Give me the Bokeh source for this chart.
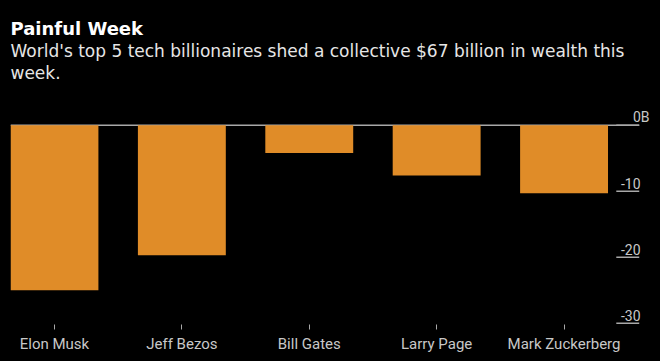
from bokeh.plotting import figure
from bokeh.models import Range1d, FixedTicker, Title
from bokeh.embed import file_html
from bokeh.resources import INLINE
from bokeh.core.properties import value

# ---- data ----
names = ["Elon Musk", "Jeff Bezos", "Bill Gates", "Larry Page", "Mark Zuckerberg"]
change = [-25.0, -19.7, -4.2, -7.6, -10.3]   # weekly wealth change, $B
y_ticks = [0, -10, -20, -30]
y_tick_labels = ["0B", "-10", "-20", "-30"]

title_text = "Painful Week"
subtitle_lines = [
    "World's top 5 tech billionaires shed a collective $67 billion in wealth this",
    "week.",
]

# ---- styling ----
FONT = "Roboto"
TFONT = "DejaVu Sans"
BAR = "#e08c28"
GRID = "#a8a8a8"
LABEL = "#c8c8c8"

n = len(names)
xs = list(range(n))
bar_w = 0.69
x_start = -bar_w / 2
x_end = n - 1 + 0.757
lab_x = n - 1 + 0.60
ul0 = n - 1 + 0.41
ul1 = n - 1 + 0.59

p = figure(width=660, height=361,
           x_range=Range1d(x_start, x_end), y_range=Range1d(-30.2, 6.5),
           output_backend="svg", toolbar_location=None,
           background_fill_color="black", border_fill_color="black",
           outline_line_color=None, y_axis_location=None,
           min_border_left=10, min_border_right=0, min_border_bottom=37,
           min_border_top=82, title=title_text)

p.title.text_font = TFONT
p.title.text_font_size = "18px"
p.title.text_font_style = "bold"
p.title.text_color = "white"
p.title.align = "left"
p.title.standoff = 0

for line in reversed(subtitle_lines):
    p.add_layout(Title(text=line, text_font=TFONT, text_font_size="17px",
                       text_font_style="normal", text_color="#e6e6e6",
                       align="left", standoff=0), "above")

p.xgrid.visible = False
p.ygrid.visible = False

# zero line (drawn beneath bars)
p.segment(x0=[x_start], y0=[y_ticks[0]], x1=[ul1], y1=[y_ticks[0]],
          line_color=GRID, line_width=1.5)
# tick underlines on right
p.segment(x0=[ul0] * len(y_ticks), y0=y_ticks, x1=[ul1] * len(y_ticks), y1=y_ticks,
          line_color=GRID, line_width=1.5)

p.vbar(x=xs, top=0, bottom=change, width=bar_w, fill_color=BAR, line_color=None)

# right-side value labels
p.text(x=[lab_x] * (len(y_ticks) - 1), y=y_ticks[1:], text=y_tick_labels[1:],
       text_align="right", text_baseline="alphabetic", y_offset=-8,
       text_font=value(FONT), text_font_size="14px", text_color=LABEL)
p.text(x=[lab_x], y=y_ticks[:1], text=y_tick_labels[:1], x_offset=9,
       text_align="right", text_baseline="alphabetic", y_offset=-8,
       text_font=value(FONT), text_font_size="14px", text_color=LABEL)

ax = p.xaxis[0]
ax.ticker = FixedTicker(ticks=xs)
ax.major_label_overrides = {i: nm for i, nm in enumerate(names)}
ax.axis_line_color = None
ax.major_tick_in = 0
ax.major_tick_out = 5
ax.major_tick_line_color = GRID
ax.minor_tick_line_color = None
ax.major_label_standoff = 5
ax.major_label_text_font = FONT
ax.major_label_text_font_size = "15px"
ax.major_label_text_color = LABEL

html = file_html(p, INLINE)
html = html.replace("<head>", "<head><style>body{background:#000;}</style>", 1)
open("out.html", "w").write(html)
